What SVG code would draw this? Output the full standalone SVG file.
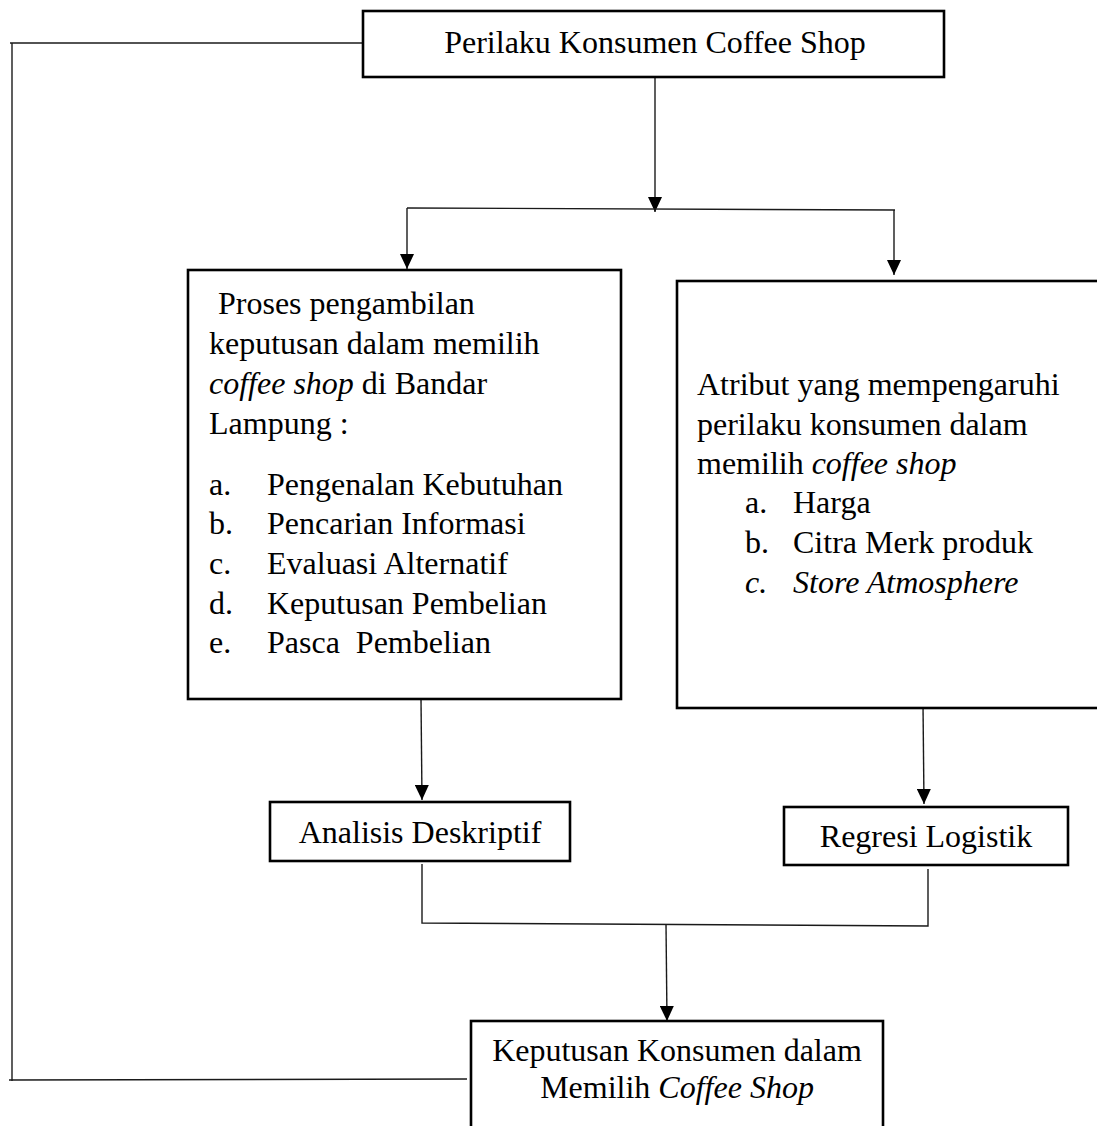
<svg xmlns="http://www.w3.org/2000/svg" width="1097" height="1126" viewBox="0 0 1097 1126">
<style>
  .box { fill: #fff; stroke: #000; stroke-width: 2.6; }
  .ln { fill: none; stroke: #1a1a1a; stroke-width: 1.4; }
  text { font-family: "Liberation Serif", "Times New Roman", serif; font-size: 32px; fill: #000; }
  .c { text-anchor: middle; }
  .i { font-style: italic; }
</style>
<defs>
  <marker id="arr" viewBox="0 0 15 14" refX="15" refY="7" markerWidth="15" markerHeight="14" markerUnits="userSpaceOnUse" orient="auto">
    <path d="M0,0 L15,7 L0,14 Z" fill="#000"/>
  </marker>
</defs>
<rect width="1097" height="1126" fill="#fff"/>

<g id="connectors">
  <!-- feedback loop -->
  <line class="ln" x1="363" y1="43" x2="10" y2="43"/>
  <line class="ln" x1="12" y1="43" x2="12" y2="1081"/>
  <line class="ln" x1="9" y1="1080" x2="467" y2="1079"/>
  <!-- top split -->
  <line class="ln" x1="655" y1="78" x2="655" y2="212" marker-end="url(#arr)"/>
  <line class="ln" x1="407" y1="208" x2="895" y2="210"/>
  <line class="ln" x1="407" y1="208" x2="407" y2="269" marker-end="url(#arr)"/>
  <line class="ln" x1="894" y1="210" x2="894" y2="275" marker-end="url(#arr)"/>
  <!-- to analysis boxes -->
  <line class="ln" x1="421" y1="699" x2="422" y2="800" marker-end="url(#arr)"/>
  <line class="ln" x1="923" y1="704" x2="924" y2="804" marker-end="url(#arr)"/>
  <!-- merge -->
  <polyline class="ln" points="422,864 422,923 928,926 928,869"/>
  <line class="ln" x1="666" y1="924" x2="667" y2="1021" marker-end="url(#arr)"/>
</g>

<g id="node-perilaku">
  <rect class="box" x="363" y="11" width="581" height="66"/>
  <text class="c" x="655" y="53">Perilaku Konsumen Coffee Shop</text>
</g>

<g id="node-proses">
  <rect class="box" x="188" y="270" width="433" height="429"/>
  <text x="218" y="314">Proses pengambilan</text>
  <text x="209" y="354">keputusan dalam memilih</text>
  <text x="209" y="394"><tspan class="i">coffee shop</tspan> di Bandar</text>
  <text x="209" y="434">Lampung :</text>
  <text x="209" y="495">a.</text><text x="267" y="495">Pengenalan Kebutuhan</text>
  <text x="209" y="534">b.</text><text x="267" y="534">Pencarian Informasi</text>
  <text x="209" y="574">c.</text><text x="267" y="574">Evaluasi Alternatif</text>
  <text x="209" y="614">d.</text><text x="267" y="614">Keputusan Pembelian</text>
  <text x="209" y="653">e.</text><text x="267" y="653" xml:space="preserve">Pasca  Pembelian</text>
</g>

<g id="node-atribut">
  <rect class="box" x="677" y="281" width="440" height="427"/>
  <text x="697" y="395">Atribut yang mempengaruhi</text>
  <text x="697" y="435">perilaku konsumen dalam</text>
  <text x="697" y="474">memilih <tspan class="i">coffee shop</tspan></text>
  <text x="745" y="513">a.</text><text x="793" y="513">Harga</text>
  <text x="745" y="553">b.</text><text x="793" y="553">Citra Merk produk</text>
  <text class="i" x="745" y="593">c.</text><text class="i" x="793" y="593">Store Atmosphere</text>
</g>

<g id="node-analisis">
  <rect class="box" x="270" y="802" width="300" height="59"/>
  <text class="c" x="420" y="843">Analisis Deskriptif</text>
</g>

<g id="node-regresi">
  <rect class="box" x="784" y="807" width="284" height="58"/>
  <text class="c" x="926" y="847">Regresi Logistik</text>
</g>

<g id="node-keputusan">
  <rect class="box" x="471" y="1021" width="412" height="120"/>
  <text class="c" x="677" y="1061">Keputusan Konsumen dalam</text>
  <text class="c" x="677" y="1098">Memilih <tspan class="i">Coffee Shop</tspan></text>
</g>
</svg>
